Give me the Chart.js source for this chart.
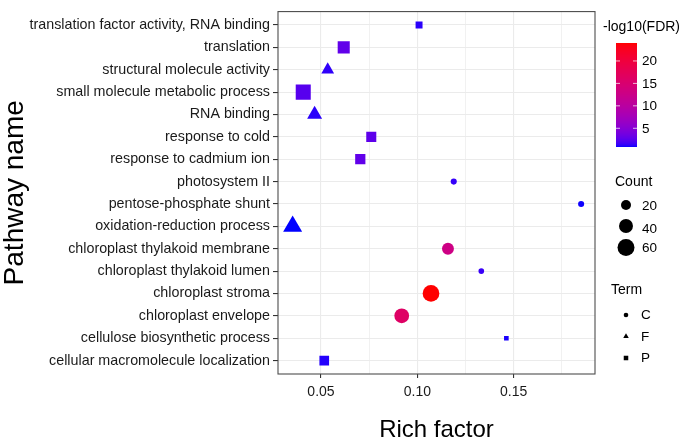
<!DOCTYPE html>
<html><head><meta charset="utf-8">
<script src="https://cdn.jsdelivr.net/npm/chart.js@4.4.1/dist/chart.umd.min.js"></script>
<style>html,body{margin:0;padding:0;background:#fff;}canvas{display:block;}</style>
</head><body>
<canvas id="c" width="685" height="444"></canvas>
<script>
// ---------- data ----------
const pathways = [
  'translation factor activity, RNA binding',
  'translation',
  'structural molecule activity',
  'small molecule metabolic process',
  'RNA binding',
  'response to cold',
  'response to cadmium ion',
  'photosystem II',
  'pentose-phosphate shunt',
  'oxidation-reduction process',
  'chloroplast thylakoid membrane',
  'chloroplast thylakoid lumen',
  'chloroplast stroma',
  'chloroplast envelope',
  'cellulose biosynthetic process',
  'cellular macromolecule localization'
];
const richFactor = [0.1009, 0.0618, 0.0535, 0.0408, 0.0467, 0.0761, 0.0704, 0.1189,
                    0.1850, 0.0353, 0.1159, 0.1332, 0.1071, 0.0919, 0.1462, 0.0517];
const geneCount  = [12, 38, 18, 60, 25, 26, 27, 7, 7, 41, 29, 6, 58, 45, 5, 24];
const negLog10FDR = [1.2, 2.8, 1.3, 2.4, 1.2, 2.7, 2.8, 1.4, 0.9, 0.83, 12.9, 1.5, 24.0, 16.1, 1.0, 1.1];
const term = ['P','P','F','P','F','P','P','C','C','F','C','C','C','C','P','P'];
const termLevels = ['C','F','P'];
const xTicks = [0.05, 0.10, 0.15];
const xMinorTicks = [0.075, 0.125, 0.175];
const colorTicks = [5, 10, 15, 20];
const countBreaks = [20, 40, 60];

// ---------- helpers ----------
const FONT = "'Liberation Sans', Arial, Helvetica, sans-serif";
function lin(c){c/=255;return c<=0.04045?c/12.92:Math.pow((c+0.055)/1.055,2.4);}
function gam(c){c=c<=0.0031308?12.92*c:1.055*Math.pow(c,1/2.4)-0.055;return Math.round(Math.max(0,Math.min(1,c))*255);}
function toLab(r,g,b){
  const R=lin(r),G=lin(g),B=lin(b);
  const X=(0.4124*R+0.3576*G+0.1805*B)/0.95047, Y=(0.2126*R+0.7152*G+0.0722*B), Z=(0.0193*R+0.1192*G+0.9505*B)/1.08883;
  const f=t=>t>0.008856?Math.cbrt(t):7.787*t+16/116;
  const fx=f(X),fy=f(Y),fz=f(Z);
  return [116*fy-16,500*(fx-fy),200*(fy-fz)];
}
function fromLab(L,a,b){
  const fy=(L+16)/116,fx=fy+a/500,fz=fy-b/200;
  const fi=t=>t>0.206893?t*t*t:(t-16/116)/7.787;
  const X=fi(fx)*0.95047,Y=fi(fy),Z=fi(fz)*1.08883;
  const R=3.2406*X-1.5372*Y-0.4986*Z,G=-0.9689*X+1.8758*Y+0.0415*Z,B=0.0557*X-0.2040*Y+1.0570*Z;
  return `rgb(${gam(R)},${gam(G)},${gam(B)})`;
}
const LOW=toLab(0,0,255), HIGH=toLab(255,0,0);
const fdrMin=Math.min(...negLog10FDR), fdrMax=Math.max(...negLog10FDR);
function colorFor(v){
  const t=Math.max(0,Math.min(1,(v-fdrMin)/(fdrMax-fdrMin)));
  return fromLab(LOW[0]+(HIGH[0]-LOW[0])*t,LOW[1]+(HIGH[1]-LOW[1])*t,LOW[2]+(HIGH[2]-LOW[2])*t);
}
function diam(c){return 0.47+2.13*Math.sqrt(c);}
const styleOf={C:'circle',F:'triangle',P:'rect'};
function radiusFor(style,c){
  const d=diam(c);
  if(style==='rect')return 0.6267*d;
  if(style==='triangle')return 0.7776*d;
  return d/2;
}

// ---------- datasets ----------
const datasets=termLevels.map(t=>{
  const pts=[];
  pathways.forEach((p,i)=>{ if(term[i]===t) pts.push({x:richFactor[i],y:i,count:geneCount[i],fdr:negLog10FDR[i]}); });
  const st=styleOf[t];
  return {
    label:t, data:pts, pointStyle:st,
    pointRadius:ctx=>radiusFor(st,ctx.raw.count),
    pointHoverRadius:ctx=>radiusFor(st,ctx.raw.count),
    pointBackgroundColor:ctx=>colorFor(ctx.raw.fdr),
    pointBorderWidth:0, borderWidth:0, showLine:false
  };
});

// ---------- legend & panel border plugin ----------
const extras={
  id:'extras',
  afterDatasetsDraw(chart){
    const ctx=chart.ctx, a=chart.chartArea;
    ctx.save();
    ctx.strokeStyle='#4d4d4d'; ctx.lineWidth=1.1;
    ctx.strokeRect(a.left,a.top,a.right-a.left,a.bottom-a.top);
    ctx.restore();
  },
  afterDraw(chart){
    const ctx=chart.ctx;
    ctx.save();
    ctx.fillStyle='#000'; ctx.textBaseline='middle'; ctx.textAlign='left';
    // colour bar
    ctx.font=`14px ${FONT}`;
    ctx.fillText('-log10(FDR)',603,27);
    const bx=616,bw=21,by=43,bh=104;
    for(let i=0;i<bh;i++){
      const v=fdrMax-(i+0.5)/bh*(fdrMax-fdrMin);
      ctx.fillStyle=colorFor(v); ctx.fillRect(bx,by+i,bw,1);
    }
    ctx.font=`13.5px ${FONT}`;
    colorTicks.forEach(t=>{
      const y=by+(fdrMax-t)/(fdrMax-fdrMin)*bh;
      ctx.strokeStyle='rgba(255,255,255,0.9)'; ctx.lineWidth=0.8;
      ctx.beginPath(); ctx.moveTo(bx,y); ctx.lineTo(bx+4,y); ctx.moveTo(bx+bw-4,y); ctx.lineTo(bx+bw,y); ctx.stroke();
      ctx.fillStyle='#000'; ctx.fillText(String(t),642,y+0.5);
    });
    // count legend
    ctx.font=`14px ${FONT}`;
    ctx.fillText('Count',615,182);
    const cy=[205,226,247.5], ly=[206,229.5,248.5];
    countBreaks.forEach((c,i)=>{
      ctx.fillStyle='#000';
      Chart.helpers.drawPoint(ctx,{pointStyle:'circle',radius:diam(c)/2,rotation:0,borderWidth:0},626,cy[i]);
      ctx.font=`13.5px ${FONT}`; ctx.fillText(String(c),642,ly[i]);
    });
    // term legend
    ctx.font=`14px ${FONT}`; ctx.fillStyle='#000';
    ctx.fillText('Term',611,290);
    const ty=[315,336.5,358], tr={circle:2.3,triangle:3.2,rect:3.2};
    termLevels.forEach((t,i)=>{
      const st=styleOf[t];
      ctx.fillStyle='#000';
      Chart.helpers.drawPoint(ctx,{pointStyle:st,radius:tr[st],rotation:0,borderWidth:0},626,ty[i]);
      ctx.font=`13.5px ${FONT}`; ctx.fillText(t,641,ty[i]+0.5);
    });
    ctx.restore();
  }
};

const GRID='#ebebeb';
new Chart(document.getElementById('c'),{
  type:'scatter',
  data:{datasets},
  options:{
    responsive:false, animation:false, devicePixelRatio:1,
    layout:{padding:{left:0,right:90,top:9,bottom:0}},
    plugins:{legend:{display:false},tooltip:{enabled:false}},
    scales:{
      x:{
        type:'linear', min:0.0277, max:0.1922,
        afterBuildTicks:s=>{s.ticks=[...xTicks,...xMinorTicks].sort((a,b)=>a-b).map(v=>({value:v}));},
        afterFit:s=>{s.height=70;},
        border:{display:false},
        grid:{
          color:GRID,
          lineWidth:c=>xTicks.some(v=>Math.abs(v-c.tick.value)<1e-9)?1.1:0.7,
          tickColor:c=>xTicks.some(v=>Math.abs(v-c.tick.value)<1e-9)?'#333':'rgba(0,0,0,0)',
          tickLength:4, drawTicks:true
        },
        ticks:{
          autoSkip:false, maxRotation:0, padding:6, color:'#1a1a1a',
          font:{family:FONT,size:14},
          callback:v=>xTicks.some(t=>Math.abs(t-v)<1e-9)?v.toFixed(2):''
        },
        title:{display:true,text:'Rich factor',color:'#000',font:{family:FONT,size:24,lineHeight:1.1},padding:{top:0,bottom:0}}
      },
      y:{
        type:'linear', min:-0.6, max:15.6, reverse:true,
        afterBuildTicks:s=>{s.ticks=pathways.map((p,i)=>({value:i}));},
        afterFit:s=>{s.width=278;},
        border:{display:false},
        grid:{color:GRID,lineWidth:1.1,tickColor:'#333',tickLength:5,drawTicks:true},
        ticks:{
          autoSkip:false, padding:3, color:'#1a1a1a',
          font:{family:FONT,size:14.3},
          callback:(v,i)=>pathways[i]
        },
        title:{display:true,text:'Pathway name',color:'#000',font:{family:FONT,size:28,lineHeight:1.0},padding:{top:1,bottom:0}}
      }
    }
  },
  plugins:[extras]
});
</script>
</body></html>
